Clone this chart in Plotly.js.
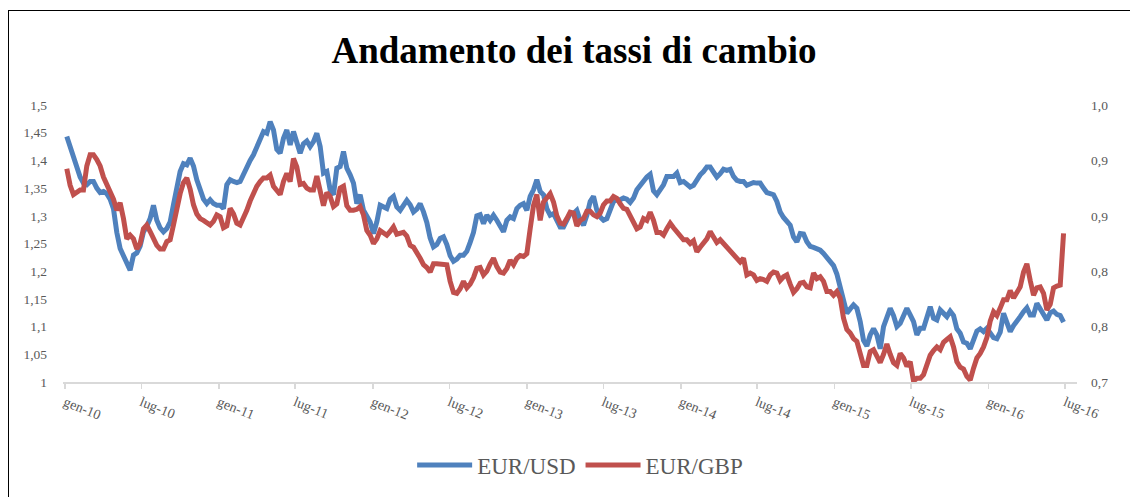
<!DOCTYPE html>
<html>
<head>
<meta charset="utf-8">
<script src="https://cdn.plot.ly/plotly-3.0.1.min.js"></script>
<style>
  html, body { margin: 0; padding: 0; background: #fff; overflow: hidden; }
  #chart { position: absolute; left: 0; top: 0; width: 1130px; height: 497px; }
  #frame { position: absolute; left: 8px; top: 10px; width: 2000px; height: 2000px;
           border-top: 1px solid #000; border-left: 1px solid #000; pointer-events: none; }
</style>
</head>
<body>
<div id="chart"></div>
<div id="frame"></div>
<script>
// Sampling of the series (regular step)
const START_DATE = '2010-01-05';
const STEP_DAYS = 7.91;

const xTickDates = ['2010-01-01','2010-07-01','2011-01-01','2011-07-01','2012-01-01','2012-07-01',
  '2013-01-01','2013-07-01','2014-01-01','2014-07-01','2015-01-01','2015-07-01','2016-01-01','2016-07-01'];
const xTickLabels = ['gen-10','lug-10','gen-11','lug-11','gen-12','lug-12','gen-13','lug-13',
  'gen-14','lug-14','gen-15','lug-15','gen-16','lug-16'];

const usdTickVals = [1,1.05,1.1,1.15,1.2,1.25,1.3,1.35,1.4,1.45,1.5];
const usdTickLabels = ['1','1,05','1,1','1,15','1,2','1,25','1,3','1,35','1,4','1,45','1,5'];
const gbpTickVals = [0.7,0.76,0.82,0.88,0.94,1.0];
const gbpTickLabels = ['0,7','0,8','0,8','0,9','0,9','1,0'];

const eurUsd = [
  1.443,1.425,1.405,1.387,1.37,1.359,1.356,1.362,1.362,1.35,
  1.342,1.344,1.34,1.33,1.313,1.27,1.241,1.228,1.214,1.202,
  1.229,1.233,1.245,1.271,1.281,1.295,1.319,1.292,1.278,1.271,
  1.277,1.289,1.32,1.35,1.38,1.394,1.392,1.404,1.39,1.365,
  1.35,1.33,1.322,1.329,1.322,1.319,1.319,1.313,1.356,1.365,
  1.362,1.36,1.362,1.375,1.39,1.40,1.41,1.425,1.44,1.452,
  1.449,1.47,1.455,1.42,1.413,1.44,1.455,1.428,1.452,1.428,
  1.413,1.43,1.435,1.425,1.434,1.449,1.425,1.377,1.38,1.347,
  1.338,1.386,1.389,1.416,1.386,1.374,1.359,1.322,1.338,1.31,
  1.30,1.289,1.268,1.289,1.319,1.315,1.313,1.33,1.335,1.316,
  1.31,1.319,1.328,1.32,1.307,1.312,1.322,1.307,1.288,1.26,
  1.244,1.248,1.259,1.262,1.248,1.228,1.218,1.222,1.229,1.229,
  1.236,1.252,1.27,1.30,1.302,1.286,1.301,1.292,1.301,1.292,
  1.28,1.271,1.292,1.298,1.295,1.313,1.319,1.322,1.31,1.335,
  1.347,1.365,1.344,1.338,1.313,1.301,1.304,1.292,1.28,1.28,
  1.295,1.304,1.304,1.31,1.292,1.283,1.301,1.326,1.335,1.31,
  1.298,1.292,1.295,1.31,1.326,1.329,1.329,1.332,1.33,1.324,
  1.332,1.347,1.355,1.36,1.37,1.375,1.345,1.338,1.347,1.356,
  1.371,1.371,1.371,1.377,1.36,1.362,1.356,1.352,1.355,1.365,
  1.374,1.38,1.388,1.388,1.377,1.37,1.376,1.384,1.382,1.384,
  1.371,1.364,1.362,1.362,1.355,1.357,1.36,1.359,1.359,1.35,
  1.342,1.34,1.338,1.326,1.307,1.297,1.29,1.283,1.262,1.253,
  1.268,1.267,1.253,1.245,1.243,1.24,1.238,1.232,1.225,1.218,
  1.21,1.195,1.17,1.14,1.124,1.132,1.139,1.133,1.109,1.075,
  1.065,1.085,1.096,1.085,1.06,1.10,1.12,1.133,1.12,1.10,
  1.106,1.12,1.133,1.121,1.109,1.085,1.097,1.097,1.115,1.136,
  1.115,1.112,1.13,1.123,1.118,1.128,1.12,1.096,1.088,1.072,
  1.07,1.06,1.075,1.092,1.096,1.091,1.097,1.09,1.08,1.078,
  1.09,1.124,1.109,1.091,1.102,1.112,1.118,1.127,1.134,1.121,
  1.121,1.142,1.133,1.124,1.112,1.125,1.128,1.122,1.12,1.108
];

const eurGbp = [
  0.931,0.913,0.903,0.905,0.908,0.908,0.934,0.946,0.946,0.941,
  0.934,0.922,0.914,0.907,0.898,0.886,0.894,0.877,0.855,0.859,
  0.855,0.844,0.85,0.866,0.870,0.863,0.856,0.848,0.844,0.844,
  0.852,0.854,0.870,0.888,0.904,0.916,0.921,0.909,0.892,0.882,
  0.877,0.875,0.872,0.870,0.874,0.881,0.879,0.867,0.869,0.888,
  0.882,0.872,0.870,0.877,0.886,0.896,0.905,0.912,0.917,0.921,
  0.921,0.924,0.912,0.908,0.903,0.917,0.926,0.917,0.942,0.933,
  0.914,0.915,0.91,0.908,0.908,0.923,0.906,0.891,0.905,0.901,
  0.890,0.893,0.91,0.912,0.891,0.886,0.886,0.887,0.890,0.881,
  0.864,0.859,0.85,0.855,0.864,0.861,0.859,0.863,0.868,0.860,
  0.861,0.862,0.858,0.848,0.846,0.841,0.834,0.827,0.824,0.819,
  0.828,0.828,0.828,0.827,0.827,0.809,0.797,0.796,0.801,0.809,
  0.802,0.806,0.813,0.823,0.824,0.816,0.82,0.828,0.834,0.825,
  0.819,0.818,0.823,0.832,0.827,0.834,0.837,0.836,0.839,0.866,
  0.891,0.903,0.875,0.895,0.899,0.904,0.895,0.88,0.872,0.871,
  0.877,0.884,0.883,0.869,0.875,0.877,0.885,0.885,0.881,0.879,
  0.883,0.892,0.896,0.896,0.901,0.899,0.893,0.888,0.887,0.88,
  0.871,0.866,0.868,0.877,0.875,0.884,0.875,0.862,0.862,0.859,
  0.866,0.872,0.867,0.862,0.857,0.854,0.854,0.85,0.853,0.841,
  0.846,0.851,0.855,0.863,0.857,0.851,0.854,0.85,0.846,0.843,
  0.837,0.833,0.830,0.834,0.816,0.818,0.816,0.810,0.812,0.811,
  0.809,0.816,0.819,0.818,0.810,0.814,0.816,0.806,0.797,0.801,
  0.807,0.808,0.803,0.802,0.818,0.812,0.814,0.809,0.798,0.798,
  0.794,0.798,0.791,0.769,0.757,0.753,0.747,0.744,0.73,0.718,
  0.718,0.733,0.735,0.727,0.721,0.73,0.741,0.73,0.721,0.718,
  0.731,0.726,0.717,0.722,0.701,0.704,0.704,0.708,0.718,0.729,
  0.734,0.738,0.735,0.743,0.746,0.749,0.738,0.722,0.716,0.714,
  0.706,0.702,0.715,0.726,0.731,0.738,0.748,0.766,0.776,0.772,
  0.780,0.789,0.789,0.799,0.791,0.796,0.803,0.819,0.828,0.810,
  0.794,0.802,0.803,0.796,0.778,0.784,0.802,0.804,0.805,0.861
];

const FONT = 'Liberation Serif, Times New Roman, serif';
const stepMs = STEP_DAYS * 86400000;

const traces = [
  { type: 'scatter', mode: 'lines', name: 'EUR/USD', x0: START_DATE, dx: stepMs, y: eurUsd,
    xaxis: 'x', yaxis: 'y', line: { color: '#4F81BD', width: 5, shape: 'linear' }, hoverinfo: 'skip' },
  { type: 'scatter', mode: 'lines', name: 'EUR/GBP', x0: START_DATE, dx: stepMs, y: eurGbp,
    xaxis: 'x', yaxis: 'y2', line: { color: '#C0504D', width: 5, shape: 'linear' }, hoverinfo: 'skip' }
];

const layout = {
  width: 1130, height: 497,
  paper_bgcolor: 'rgba(0,0,0,0)', plot_bgcolor: 'rgba(0,0,0,0)',
  margin: { l: 63, r: 53, t: 105, b: 115 },
  font: { family: FONT, color: '#595959', size: 13 },
  title: { text: '<b>Andamento dei tassi di cambio</b>', font: { family: FONT, size: 37, color: '#000' },
           x: 0.508, xref: 'container', xanchor: 'center', y: 1 - 50/497, yref: 'container', yanchor: 'middle' },
  showlegend: true,
  legend: { orientation: 'h', x: 0.51, xanchor: 'center', y: 1 - 465/497, yref: 'container', yanchor: 'middle',
            itemwidth: 55, font: { family: FONT, size: 23, color: '#595959' }, bgcolor: 'rgba(0,0,0,0)' },
  xaxis: {
    type: 'date', range: ['2009-12-27', '2016-07-29'],
    tickmode: 'array', tickvals: xTickDates, ticktext: xTickLabels, tickangle: 22,
    tickfont: { family: FONT, size: 14, color: '#595959' },
    ticks: 'outside', ticklen: 5, tickcolor: '#d9d9d9', tickwidth: 1.5,
    showline: true, linecolor: '#d9d9d9', linewidth: 2,
    showgrid: false, zeroline: false, fixedrange: true
  },
  yaxis: {
    range: [1, 1.5], tickmode: 'array', tickvals: usdTickVals, ticktext: usdTickLabels,
    tickfont: { family: FONT, size: 13.5, color: '#595959' }, ticklabelstandoff: 15,
    showgrid: false, zeroline: false, showline: false, ticks: '', fixedrange: true
  },
  yaxis2: {
    overlaying: 'y', side: 'right', range: [0.7, 1.0], tickmode: 'array',
    tickvals: gbpTickVals, ticktext: gbpTickLabels,
    tickfont: { family: FONT, size: 13.5, color: '#595959' }, ticklabelstandoff: 13,
    showgrid: false, zeroline: false, showline: false, ticks: '', fixedrange: true
  }
};

Plotly.newPlot('chart', traces, layout, { displayModeBar: false, staticPlot: true });
</script>
</body>
</html>
